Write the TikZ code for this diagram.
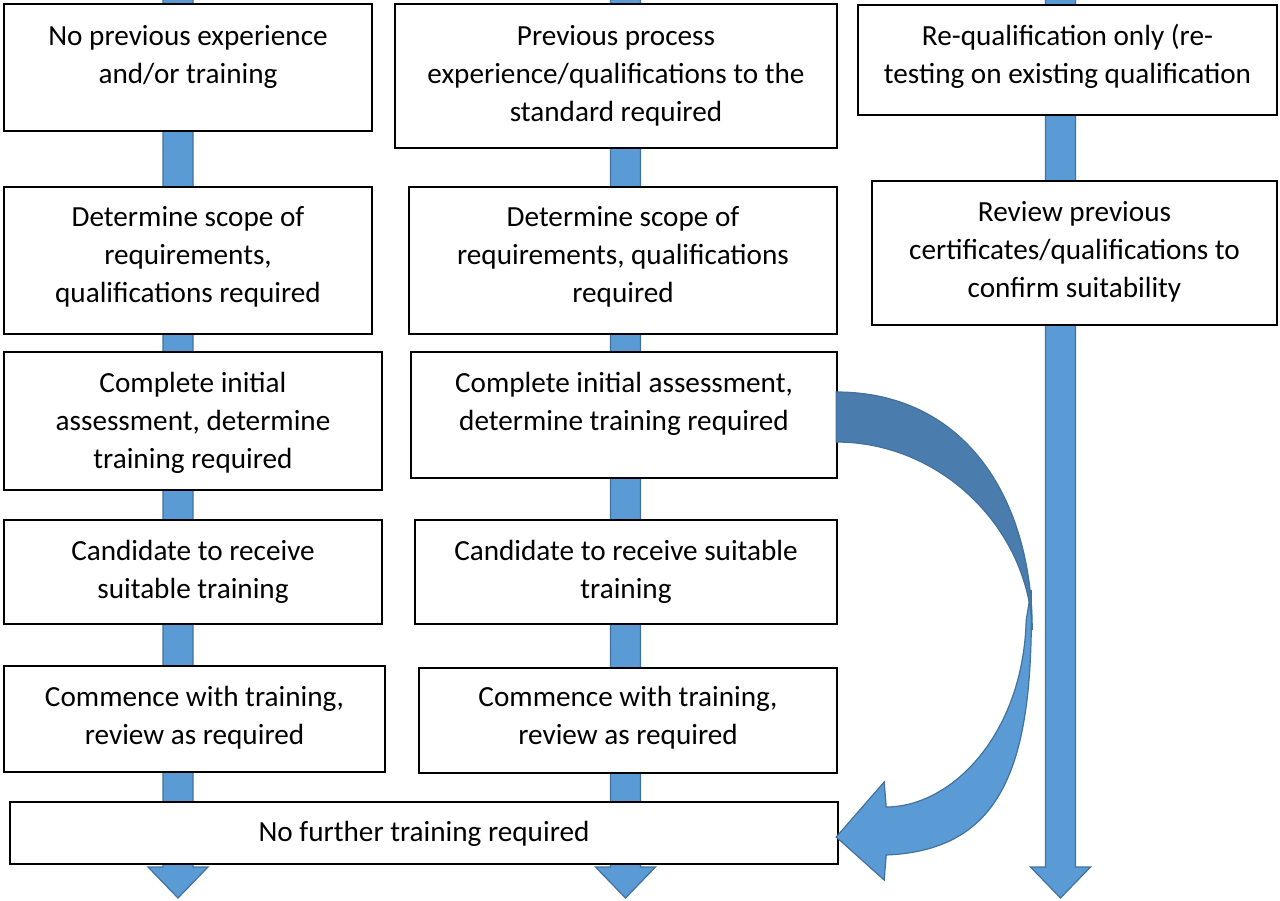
\documentclass[tikz,border=0pt]{standalone}
\usepackage{fontspec}
\setmainfont{Carlito}
\usetikzlibrary{calc}

\definecolor{shaftblue}{HTML}{5B9BD5}
\definecolor{shaftline}{HTML}{41719C}
\definecolor{curvedark}{HTML}{4A7DAE}

\tikzset{
  box/.style={draw, line width=1.2pt, fill=white, align=center, inner sep=1pt, text depth=0pt, font=\fontsize{14.6pt}{19pt}\selectfont},
  lift/.style={text height=#1},
  shaft/.style={fill=shaftblue, draw=shaftline, line width=0.6pt, line join=miter},
}

\begin{document}
\begin{tikzpicture}[x={(0.5pt,0)}, y={(0,-0.5pt)}]
    \useasboundingbox (0,0) rectangle (1280,900);

    % fat arrows behind the boxes
    \foreach \col/\x in {1/178, 2/625.5, 3/1060.5}
    {
        \coordinate (top\col) at (\x,-5);
        \coordinate (tip\col) at (\x,898);
        \filldraw[shaft] ($(top\col)+(-15,0)$) -- ($(tip\col)+(-15,-31)$) -- ($(tip\col)+(-30,-31)$) -- (tip\col) -- ($(tip\col)+(30,-31)$) -- ($(tip\col)+(15,-31)$) -- ($(top\col)+(15,0)$) -- cycle;
    }

    % first column
    \node[box, minimum width=184pt, minimum height=63.5pt, lift=15.5pt] (a1) at (188,67.5) {No previous experience\\and/or training};
    \node[box, minimum width=184pt, minimum height=73.5pt, lift=41.5pt] (a2) at (188,260.5) {Determine scope of\\requirements,\\qualifications required};
    \node[box, minimum width=189pt, minimum height=69pt, lift=47pt] (a3) at (193,421) {Complete initial\\assessment, determine\\training required};
    \node[box, minimum width=189pt, minimum height=52pt, lift=26pt] (a4) at (193,572) {Candidate to receive\\suitable training};
    \node[box, minimum width=190.5pt, minimum height=53pt, lift=25pt] (a5) at (194.5,719) {Commence with training,\\review as required};

    % second column
    \node[box, minimum width=221pt, minimum height=72pt, lift=45pt] (b1) at (616,76) {Previous process\\experience/qualifications to the\\standard required};
    \node[box, minimum width=214pt, minimum height=73.5pt, lift=41.5pt] (b2) at (623,260.5) {Determine scope of\\requirements, qualifications\\required};
    \node[box, minimum width=213pt, minimum height=63pt, lift=15pt] (b3) at (624,415) {Complete initial assessment,\\determine training required};
    \node[box, minimum width=211pt, minimum height=52pt, lift=26pt] (b4) at (626,572) {Candidate to receive suitable\\training};
    \node[box, minimum width=209pt, minimum height=52.5pt, lift=23.5pt] (b5) at (628,720.5) {Commence with training,\\review as required};

    % third column
    \node[box, minimum width=209.5pt, minimum height=55pt, lift=23pt] (c1) at (1067.5,60) {Re-qualification only (re-\\testing on existing qualification};
    \node[box, minimum width=202.5pt, minimum height=72pt, lift=44pt] (c2) at (1074.5,253) {Review previous\\certificates/qualifications to\\confirm suitability};

    \node[box, minimum width=414pt, minimum height=31pt, lift=8pt] (nofurther) at (424,833) {No further training required};

    % curved arrow, lower part
    \begin{scope}[shift={(nofurther.east)}]
        \filldraw[shaft] (192,-243) .. controls (195,-73) and (167,17) .. (47,22) -- (45,47) -- (-3,4) -- (45,-51) -- (47,-26) .. controls (112,-26) and (184,-98) .. (187,-213) -- cycle;
    \end{scope}
    % curved arrow, upper part
    \begin{scope}[shift={(b3.east)}]
        \filldraw[shaft, fill=curvedark] (-2,-23) .. controls (128,-23) and (194,85) .. (194,215) .. controls (191,116) and (105,27) .. (-2,27) -- cycle;
    \end{scope}
\end{tikzpicture}
\end{document}
